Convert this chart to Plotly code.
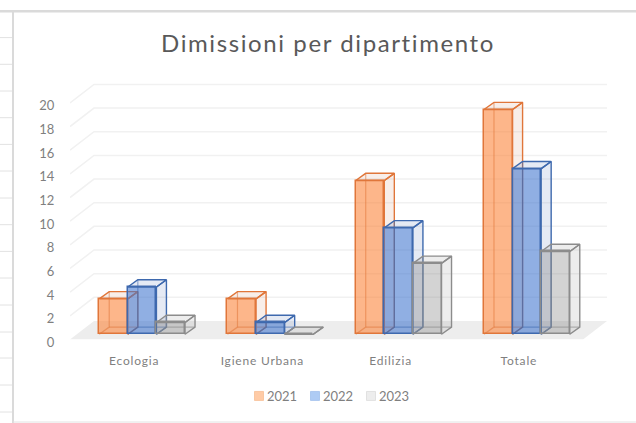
import plotly.graph_objects as go

# ---------- data ----------
categories = ["Ecologia", "Igiene Urbana", "Edilizia", "Totale"]
years = ["2021", "2022", "2023"]
values_2021 = [3, 3, 13, 19]
values_2022 = [4, 1, 9, 14]
values_2023 = [1, 0, 6, 7]
y_ticks = [0, 2, 4, 6, 8, 10, 12, 14, 16, 18, 20]
title_text = "Dimissioni per dipartimento"

# ---------- page geometry (pixels) ----------
W, H = 636, 423
PLOT_L, PLOT_R, PLOT_T, PLOT_B = 70, 607, 78, 339.5
PX_CAT, PX_UNIT = 128.25, 11.83

# ---------- pseudo-3D projection, in data units ----------
X0 = -0.5
X1 = X0 + (PLOT_R - PLOT_L) / PX_CAT
Y1 = (PLOT_B - PLOT_T) / PX_UNIT
FLOOR_DX, FLOOR_DY = 24 / PX_CAT, 18.5 / PX_UNIT
BAR_W = 28.6 / PX_CAT
BAR_SHIFT = 8 / PX_CAT
BAR_BASE = 5.2 / PX_UNIT
BAR_DX, BAR_DY = 10 / PX_CAT, 7.2 / PX_UNIT

GRID = "#F1F1F1"
FLOOR = "#EDEDED"
TEXT = "#7F7F7F"
styles = [
    dict(front="rgba(251,133,60,0.6)", line="#E0763A", face="rgba(214,150,120,0.16)",
         back="rgba(224,118,58,0.55)", swatch="#FFCBA6", swatch_line="#F6BC92"),
    dict(front="rgba(60,115,205,0.57)", line="#3E69AE", face="rgba(110,140,195,0.18)",
         back="rgba(62,105,174,0.55)", swatch="#AECBF4", swatch_line="#9DBDEB"),
    dict(front="rgba(130,130,130,0.35)", line="#8C8C8C", face="rgba(150,150,150,0.17)",
         back="rgba(140,140,140,0.6)", swatch="#EDEDED", swatch_line="#D9D9D9"),
]

fig = go.Figure()

# floor
fig.add_trace(go.Scatter(
    x=[X0, 3.5, 3.5 + FLOOR_DX, X0 + FLOOR_DX, X0],
    y=[0, 0, FLOOR_DY, FLOOR_DY, 0],
    mode="lines", fill="toself", fillcolor=FLOOR, line=dict(width=0),
    hoverinfo="skip", showlegend=False))

# back-wall gridlines, with their side-wall diagonal
grid_x, grid_y = [], []
for t in y_ticks[1:]:
    grid_x += [X0, X0 + FLOOR_DX, 3.5 + FLOOR_DX, None]
    grid_y += [t, t + FLOOR_DY, t + FLOOR_DY, None]
fig.add_trace(go.Scatter(x=grid_x, y=grid_y, mode="lines",
                         line=dict(color=GRID, width=1.5),
                         hoverinfo="skip", showlegend=False))

# each series sits on its own overlaid axes so later series paint over earlier ones
all_values = [values_2021, values_2022, values_2023]
for s, (year, vals, st) in enumerate(zip(years, all_values, styles)):
    suffix = str(s + 2)
    xa, ya = "x" + suffix, "y" + suffix
    lefts = [i + BAR_SHIFT + (s - 1.5) * BAR_W for i in range(len(vals))]
    fig.add_trace(go.Bar(
        x=[l + BAR_W / 2 for l in lefts], y=vals, base=[BAR_BASE] * len(vals),
        width=BAR_W, marker=dict(color=st["front"], line=dict(color=st["line"], width=1.5)),
        name=year, showlegend=False, xaxis=xa, yaxis=ya,
        hovertemplate=year + ": %{y}<extra></extra>"))

    fx, fy, bx, by = [], [], [], []
    for l, v in zip(lefts, vals):
        r = l + BAR_W
        b, t = BAR_BASE, BAR_BASE + v
        d, e = BAR_DX, BAR_DY
        # top face and right face
        fx += [l, l + d, r + d, r, l, None, r, r + d, r + d, r, r, None]
        fy += [t, t + e, t + e, t, t, None, t, t + e, b + e, b, t, None]
        # hidden edges seen through the translucent box
        bx += [l, l + d, l + d, None, l + d, r + d, None]
        by += [b, b + e, t + e, None, b + e, b + e, None]
    fig.add_trace(go.Scatter(x=bx, y=by, mode="lines", xaxis=xa, yaxis=ya,
                             line=dict(color=st["back"], width=1.2),
                             hoverinfo="skip", showlegend=False))
    fig.add_trace(go.Scatter(x=fx, y=fy, mode="lines", fill="toself", xaxis=xa, yaxis=ya,
                             fillcolor=st["face"], line=dict(color=st["line"], width=1.4),
                             hoverinfo="skip", showlegend=False))

# legend entries
for year, st in zip(years, styles):
    fig.add_trace(go.Bar(x=[None], y=[None], name=year, hoverinfo="skip",
                         marker=dict(color=st["swatch"], line=dict(color=st["swatch_line"], width=1))))
# blank entries: keep the last label from being clipped by the compact entry width
for blank in (" ", "  "):
    fig.add_trace(go.Bar(x=[None], y=[None], name=blank, hoverinfo="skip",
                         marker=dict(color="rgba(0,0,0,0)", line=dict(width=0))))

dom_x = [PLOT_L / W, PLOT_R / W]
dom_y = [1 - PLOT_B / H, 1 - PLOT_T / H]

# spreadsheet frame behind the pasted chart
FRAME = "#DADADA"
ROW = "#E2E2E2"
rows = [37.6, 64.3, 91, 117.7, 144.4, 171, 198, 224.7, 251.4, 278, 305, 332, 358, 385, 412]
shapes = [dict(type="line", xref="paper", yref="paper", x0=0, x1=13 / W, y0=1 - r / H, y1=1 - r / H,
               line=dict(color=ROW, width=1), layer="below") for r in rows]
shapes += [
    dict(type="line", xref="paper", yref="paper", x0=0, x1=1, y0=1 - 11.3 / H, y1=1 - 11.3 / H,
         line=dict(color=FRAME, width=2.5), layer="below"),
    dict(type="line", xref="paper", yref="paper", x0=13 / W, x1=13 / W, y0=0, y1=1 - 11 / H,
         line=dict(color=FRAME, width=2), layer="below"),
    dict(type="line", xref="paper", yref="paper", x0=13 / W, x1=1, y0=1 - 422 / H, y1=1 - 422 / H,
         line=dict(color=ROW, width=1), layer="below"),
]

fig.update_layout(
    width=W, height=H, margin=dict(l=0, r=0, t=0, b=0), autosize=False,
    paper_bgcolor="white", plot_bgcolor="rgba(0,0,0,0)",
    font=dict(family="Lato", size=12, color=TEXT),
    barmode="overlay", bargap=0, shapes=shapes,
    title=dict(text=title_text, x=328 / W, xanchor="center", xref="paper",
               y=1 - 44 / H, yanchor="middle", yref="paper",
               font=dict(family="Lato", size=24, color="#595959")),
    legend=dict(orientation="h", x=227 / W, y=1 - 396 / H, xanchor="left", yanchor="middle",
                entrywidth=11, entrywidthmode="pixels", bgcolor="rgba(0,0,0,0)",
                font=dict(size=13, color=TEXT), traceorder="normal"),
    xaxis=dict(domain=dom_x, range=[X0, X1], tickmode="array",
               tickvals=list(range(len(categories))), ticktext=categories,
               showgrid=False, zeroline=False, showline=False,
               ticks="outside", ticklen=10, tickcolor="rgba(0,0,0,0)",
               tickfont=dict(size=12, color=TEXT), fixedrange=True, automargin=False),
    yaxis=dict(domain=dom_y, range=[0, Y1], tickmode="array",
               tickvals=y_ticks, ticktext=[str(t) for t in y_ticks],
               showgrid=False, zeroline=False, showline=False,
               ticks="outside", ticklen=12, tickcolor="rgba(0,0,0,0)", ticklabelshift=3,
               tickfont=dict(size=13, color=TEXT), fixedrange=True, automargin=False),
)
for n in (2, 3, 4):
    fig.update_layout({
        f"xaxis{n}": dict(domain=dom_x, range=[X0, X1], overlaying="x", visible=False, fixedrange=True),
        f"yaxis{n}": dict(domain=dom_y, range=[0, Y1], overlaying="y", visible=False, fixedrange=True),
    })

post = """
document.body.style.margin='0';document.body.style.overflow='hidden';
var gd=document.querySelector('.plotly-graph-div');
function tweak(){
  document.querySelectorAll('.gtitle').forEach(function(e){e.style.letterSpacing='1.6px';});
  document.querySelectorAll('.xtick text').forEach(function(e){e.style.letterSpacing='0.8px';});
  document.querySelectorAll('.legendsymbols').forEach(function(e){e.setAttribute('transform','translate(17,0) scale(0.75)');});
}
tweak();
gd.on('plotly_afterplot',tweak);
"""
fig.write_html("out.html", config=dict(displayModeBar=False), post_script=post)
